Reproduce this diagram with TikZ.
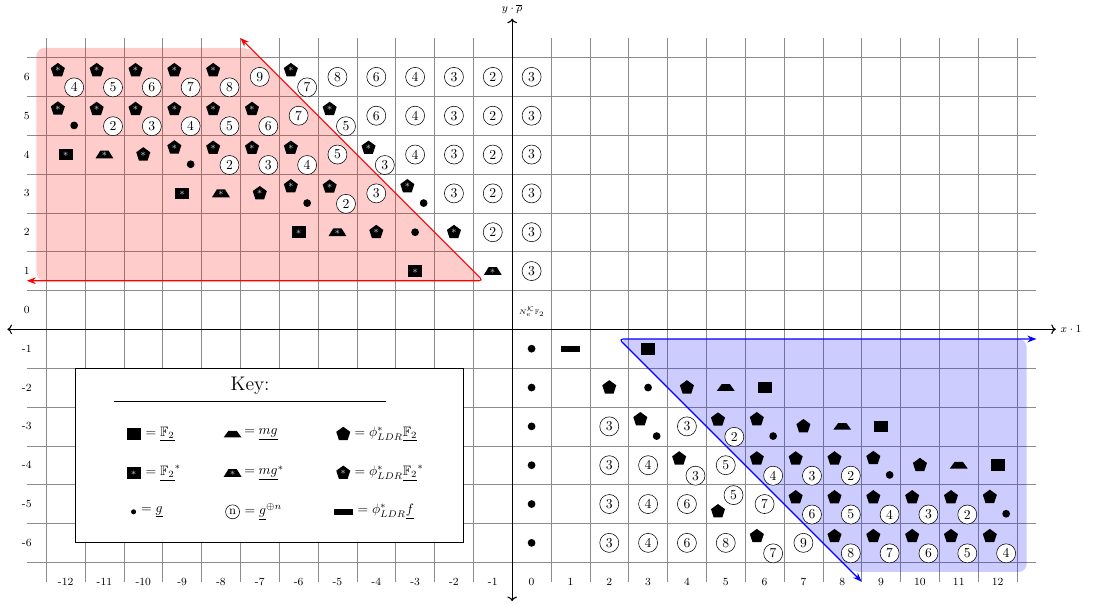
\documentclass[tikz,border=0pt]{standalone}
\usepackage{amssymb}
\usetikzlibrary{shapes.geometric,arrows.meta}

\newcommand{\cellsym}[3]{\node[#1] (s#2r#3) at ({#2+0.5},{#3+0.5}) {};}
\newcommand{\cellnum}[3]{\node[gnum] (n#1r#2) at ({#1+0.5},{#2+0.5}) {#3};}
\newcommand{\pentnum}[4]{%
	\node[#1] (s#2r#3) at ({#2+0.3},{#3+0.67}) {};
	\node[gnum] (n#2r#3) at ({#2+0.72},{#3+0.23}) {#4};}
\newcommand{\pentdot}[3]{%
	\node[#1] (s#2r#3) at ({#2+0.3},{#3+0.68}) {};
	\node[gdot] (d#2r#3) at ({#2+0.72},{#3+0.25}) {};}

\begin{document}
\begin{tikzpicture}[astr/.style={font=\scriptsize,text=gray!30,inner sep=0pt},
	starred/.style={path picture={\node[astr] (a) at (path picture bounding box.center) {$\ast$};}},
	fsq/.style={rectangle,fill=black,minimum width=0.36cm,minimum height=0.3cm,inner sep=0pt},
	fsqs/.style={fsq,starred},
	mgtrap/.style={trapezium,trapezium angle=60,trapezium stretches=true,fill=black,minimum width=0.46cm,minimum height=0.17cm,inner sep=0.5pt},
	mgtraps/.style={mgtrap,minimum height=0.2cm,starred},
	phipent/.style={regular polygon,regular polygon sides=5,fill=black,minimum size=0.38cm,inner sep=0pt},
	phipents/.style={phipent,starred},
	gdot/.style={circle,fill=black,minimum size=0.2cm,inner sep=0pt},
	fbar/.style={rectangle,fill=black,minimum width=0.48cm,minimum height=0.15cm,inner sep=0pt},
	gnum/.style={circle,draw,fill=white,minimum size=0.49cm,inner sep=1pt}]
\useasboundingbox (-13.19,-7.05) rectangle (15.06,8.48);
\draw[gray!90] (-12.5,-6.5) grid (13.5,7.5);
% shaded regions
\fill[red,fill opacity=0.2,rounded corners=6pt] (-0.75,1.25) -- (-12.25,1.25) -- (-12.25,7.25) -- (-6.75,7.25) -- cycle;
\fill[blue,fill opacity=0.2,rounded corners=6pt] (2.75,-0.25) -- (13.25,-0.25) -- (13.25,-6.25) -- (8.75,-6.25) -- cycle;
\coordinate (rl) at (-12.5,1.25);
\coordinate (rc) at (-0.75,1.25);
\coordinate (rt) at (-7,7.5);
\coordinate (bc) at (2.75,-0.25);
\coordinate (br) at (13.5,-0.25);
\coordinate (bb) at (9,-6.5);
\draw[red,thick,rounded corners=3pt,{Stealth}-{Stealth}] (rl) -- (rc) -- (rt);
\draw[blue,thick,rounded corners=3pt,{Stealth}-{Stealth}] (br) -- (bc) -- (bb);
% axes
\coordinate (xl) at (-13,0);
\coordinate (xr) at (14,0);
\coordinate (yb) at (0,-7);
\coordinate (yt) at (0,8);
\draw[thick,<->] (xl) -- (xr);
\draw[thick,<->] (yb) -- (yt);
\node[anchor=west,font=\footnotesize] (xlab) at (xr) {$x\cdot 1$};
\node[anchor=south,font=\footnotesize] (ylab) at (yt) {$y\cdot\overline{\rho}$};
\foreach \c in {-12,...,12}
	\node[font=\footnotesize] (xt\c) at ({\c+0.5},-6.5) {\c};
\foreach \r in {-6,...,6}
	\node[font=\footnotesize] (yt\r) at (-12.5,{\r+0.5}) {\r};
\node[font=\tiny] (nek) at (0.5,0.45) {$N_e^{\mathcal{K}}\mathbb{F}_2$};

% upper left
\foreach \c/\n in {-12/4,-11/5,-10/6,-9/7,-8/8,-6/7}
	{\pentnum{phipents}{\c}{6}{\n}}
\foreach \c/\n in {-7/9,-5/8,-4/6,-3/4,-2/3,-1/2,0/3}
	{\cellnum{\c}{6}{\n}}
\pentdot{phipents}{-12}{5}
\foreach \c/\n in {-11/2,-10/3,-9/4,-8/5,-7/6,-5/5}
	{\pentnum{phipents}{\c}{5}{\n}}
\foreach \c/\n in {-6/7,-4/6,-3/4,-2/3,-1/2,0/3}
	{\cellnum{\c}{5}{\n}}
\cellsym{fsqs}{-12}{4}
\cellsym{mgtraps}{-11}{4}
\cellsym{phipents}{-10}{4}
\pentdot{phipents}{-9}{4}
\foreach \c/\n in {-8/2,-7/3,-6/4,-4/3}
	{\pentnum{phipents}{\c}{4}{\n}}
\foreach \c/\n in {-5/5,-3/4,-2/3,-1/2,0/3}
	{\cellnum{\c}{4}{\n}}
\cellsym{fsqs}{-9}{3}
\cellsym{mgtraps}{-8}{3}
\cellsym{phipents}{-7}{3}
\pentdot{phipents}{-6}{3}
\pentnum{phipents}{-5}{3}{2}
\pentdot{phipents}{-3}{3}
\foreach \c/\n in {-4/3,-2/3,-1/2,0/3}
	{\cellnum{\c}{3}{\n}}
\cellsym{fsqs}{-6}{2}
\cellsym{mgtraps}{-5}{2}
\cellsym{phipents}{-4}{2}
\cellsym{gdot}{-3}{2}
\cellsym{phipents}{-2}{2}
\cellnum{-1}{2}{2}
\cellnum{0}{2}{3}
\cellsym{fsqs}{-3}{1}
\cellsym{mgtraps}{-1}{1}
\cellnum{0}{1}{3}

% lower right
\foreach \r in {-1,...,-6}
	{\cellsym{gdot}{0}{\r}}
\cellsym{fbar}{1}{-1}
\cellsym{fsq}{3}{-1}
\cellsym{phipent}{2}{-2}
\cellsym{gdot}{3}{-2}
\cellsym{phipent}{4}{-2}
\cellsym{mgtrap}{5}{-2}
\cellsym{fsq}{6}{-2}
\cellnum{2}{-3}{3}
\pentdot{phipent}{3}{-3}
\cellnum{4}{-3}{3}
\pentnum{phipent}{5}{-3}{2}
\pentdot{phipent}{6}{-3}
\cellsym{phipent}{7}{-3}
\cellsym{mgtrap}{8}{-3}
\cellsym{fsq}{9}{-3}
\foreach \c/\n in {2/3,3/4,5/5}
	{\cellnum{\c}{-4}{\n}}
\foreach \c/\n in {4/3,6/4,7/3,8/2}
	{\pentnum{phipent}{\c}{-4}{\n}}
\pentdot{phipent}{9}{-4}
\cellsym{phipent}{10}{-4}
\cellsym{mgtrap}{11}{-4}
\cellsym{fsq}{12}{-4}
\foreach \c/\n in {2/3,3/4,4/6,6/7}
	{\cellnum{\c}{-5}{\n}}
\node[phipent] (s5r-5) at (5.3,-4.69) {};
\node[gnum] (n5r-5) at (5.7,-4.27) {5};
\foreach \c/\n in {7/6,8/5,9/4,10/3,11/2}
	{\pentnum{phipent}{\c}{-5}{\n}}
\pentdot{phipent}{12}{-5}
\foreach \c/\n in {2/3,3/4,4/6,5/8,7/9}
	{\cellnum{\c}{-6}{\n}}
\foreach \c/\n in {6/7,8/8,9/7,10/6,11/5,12/4}
	{\pentnum{phipent}{\c}{-6}{\n}}

% key
\node[draw,semithick,fill=white,minimum width=10cm,minimum height=4.5cm] (keybox) at (-6.25,-3.25) {};
\node[font=\Large] (keytitle) at (-6.75,-1.45) {Key:};
\coordinate (kl) at (-10.25,-1.86);
\coordinate (kr) at (-3.25,-1.86);
\draw (kl) -- (kr);
\node[fsq] (k1) at (-9.75,-2.7) {};
\node[anchor=west] (kt1) at (k1.east) {$=\underline{\mathbb{F}_2}$};
\node[fsqs] (k2) at (-9.75,-3.7) {};
\node[anchor=west] (kt2) at (k2.east) {$=\underline{\mathbb{F}_2}^*$};
\node[gdot,minimum size=0.13cm] (k3) at (-9.75,-4.7) {};
\node[anchor=west] (kt3) at (k3.east) {$=\underline{g}$};
\node[mgtrap] (k4) at (-7.2,-2.7) {};
\node[anchor=west] (kt4) at (k4.east) {$=\underline{mg}$};
\node[mgtraps] (k5) at (-7.2,-3.7) {};
\node[anchor=west] (kt5) at (k5.east) {$=\underline{mg}^*$};
\node[gnum,minimum size=0.36cm,inner sep=0.5pt,font=\small] (k6) at (-7.2,-4.7) {n};
\node[anchor=west] (kt6) at (k6.east) {$=\underline{g}^{\oplus n}$};
\node[phipent] (k7) at (-4.35,-2.7) {};
\node[anchor=west] (kt7) at (k7.east) {$=\phi^*_{LDR}\underline{\mathbb{F}_2}$};
\node[phipents] (k8) at (-4.35,-3.7) {};
\node[anchor=west] (kt8) at (k8.east) {$=\phi^*_{LDR}\underline{\mathbb{F}_2}^*$};
\node[fbar] (k9) at (-4.35,-4.7) {};
\node[anchor=west] (kt9) at (k9.east) {$=\phi^*_{LDR}\underline{f}$};
\end{tikzpicture}
\end{document}
